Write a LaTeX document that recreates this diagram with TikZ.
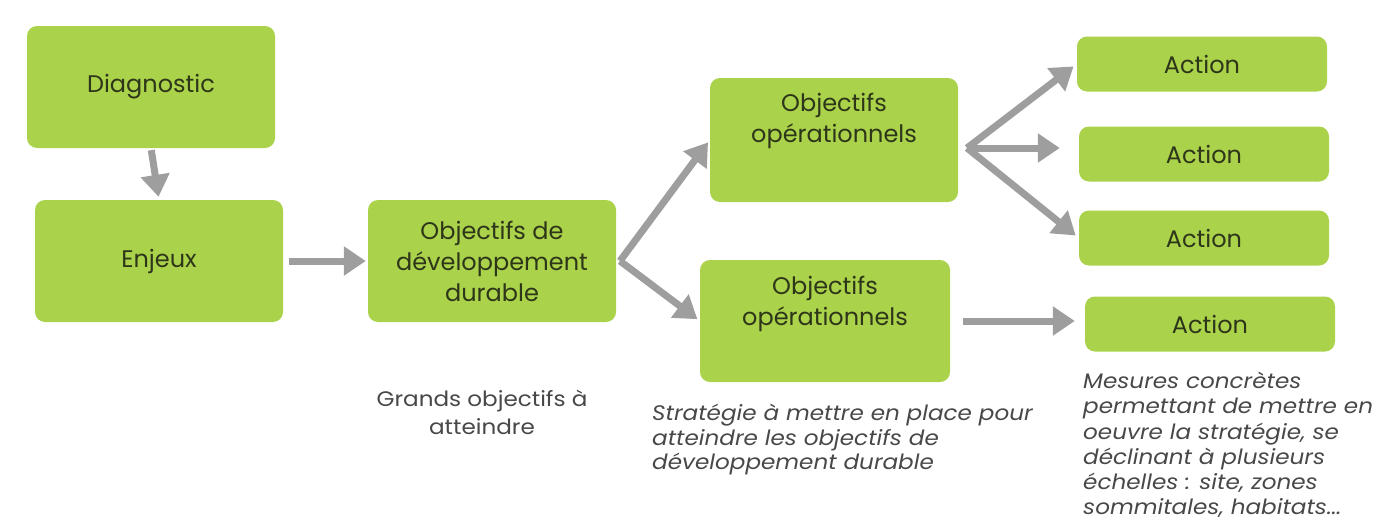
\documentclass[tikz,border=0pt]{standalone}
\usepackage{fontspec}
\setmainfont{Poppins}
\newfontfamily\notefont[FakeStretch = 1.1]{Poppins}
\usetikzlibrary{arrows.meta,positioning}
\definecolor{boxgreen}{RGB}{170,210,74}
\definecolor{arrowgray}{RGB}{158,158,158}
\definecolor{boxtext}{RGB}{46,54,26}
\definecolor{notetext}{RGB}{72,72,72}
\tikzset{
	stage/.style = {rectangle, rounded corners = 10, fill = boxgreen,
		text = boxtext, align = center, inner sep = 0,
		minimum width = 248, minimum height = 122,
		font = \fontsize{24}{31}\selectfont},
	stage text/.style = {align = center, text = boxtext, inner sep = 0,
		font = \fontsize{24}{31}\selectfont},
	action/.style = {stage, minimum width = 250, minimum height = 55},
	note/.style = {text = notetext, inner sep = 0,
		font = \notefont\fontsize{21}{28}\selectfont},
	slanted note/.style = {note, align = left, anchor = north west,
		font = \notefont\fontsize{21}{24.5}\selectfont\itshape},
	flow/.style = {draw = arrowgray, line width = 7,
		-{Triangle[width = 28, length = 22]}},
}

\begin{document}
\begin{tikzpicture}[x = 1pt, y = -1pt]
\useasboundingbox (0,0) rectangle (1392,522);
% left column
\node[stage] (diag) at (151,87) {Diagnostic};
\node[stage] (enjeux) at (159,261) {Enjeux};
\node[stage] (odd) at (492,261) {Objectifs de\\développement\\durable};
% operational objectives, text sits high in the box
\node[stage, minimum height = 124] (oo1) at (834,140) {};
\node[stage text] (oo1txt) at (834,121) {Objectifs\\opérationnels};
\node[stage, minimum width = 250] (oo2) at (825,321) {};
\node[stage text] (oo2txt) at (825,304) {Objectifs\\opérationnels};
% actions
\node[action] (act1) at (1202,64) {Action};
\node[action] (act2) at (1204,154) {Action};
\node[action] (act3) at (1204,238) {Action};
\node[action] (act4) at (1210,324) {Action};
% captions
\node[note, align = center] (goals) at (482,412) {Grands objectifs à\\atteindre};
\node[slanted note] (strategy) at (652,404) {Stratégie à mettre en place pour\\atteindre les objectifs de\\développement durable};
\node[slanted note, font = \notefont\fontsize{21}{25.2}\selectfont\itshape] (measures) at (1083,372) {Mesures concrètes\\permettant de mettre en\\oeuvre la stratégie, se\\déclinant à plusieurs\\échelles : site, zones\\sommitales, habitats...};
% arrows
\coordinate (fork1) at (620,261);
\coordinate (fork2) at (967,148);
\draw[flow, shorten < = 2, shorten > = 3] (diag.south) -- (enjeux.north);
\draw[flow, shorten < = 6, shorten > = 2] (enjeux) -- (odd);
\draw[flow, shorten > = 3] (fork1) -- (oo1.west);
\draw[flow, shorten > = 3] (fork1) -- (oo2.west);
\draw[flow, shorten > = 4] (fork2) -- (act1.west);
\draw[flow, shorten > = 19] (fork2) -- (fork2 -| act2.west);
\draw[flow, shorten > = 4] (fork2) -- (act3.west);
\draw[flow, shorten < = 13, shorten > = 10] (oo2.east) -- (oo2.east -| act4.west);
\end{tikzpicture}
\end{document}
